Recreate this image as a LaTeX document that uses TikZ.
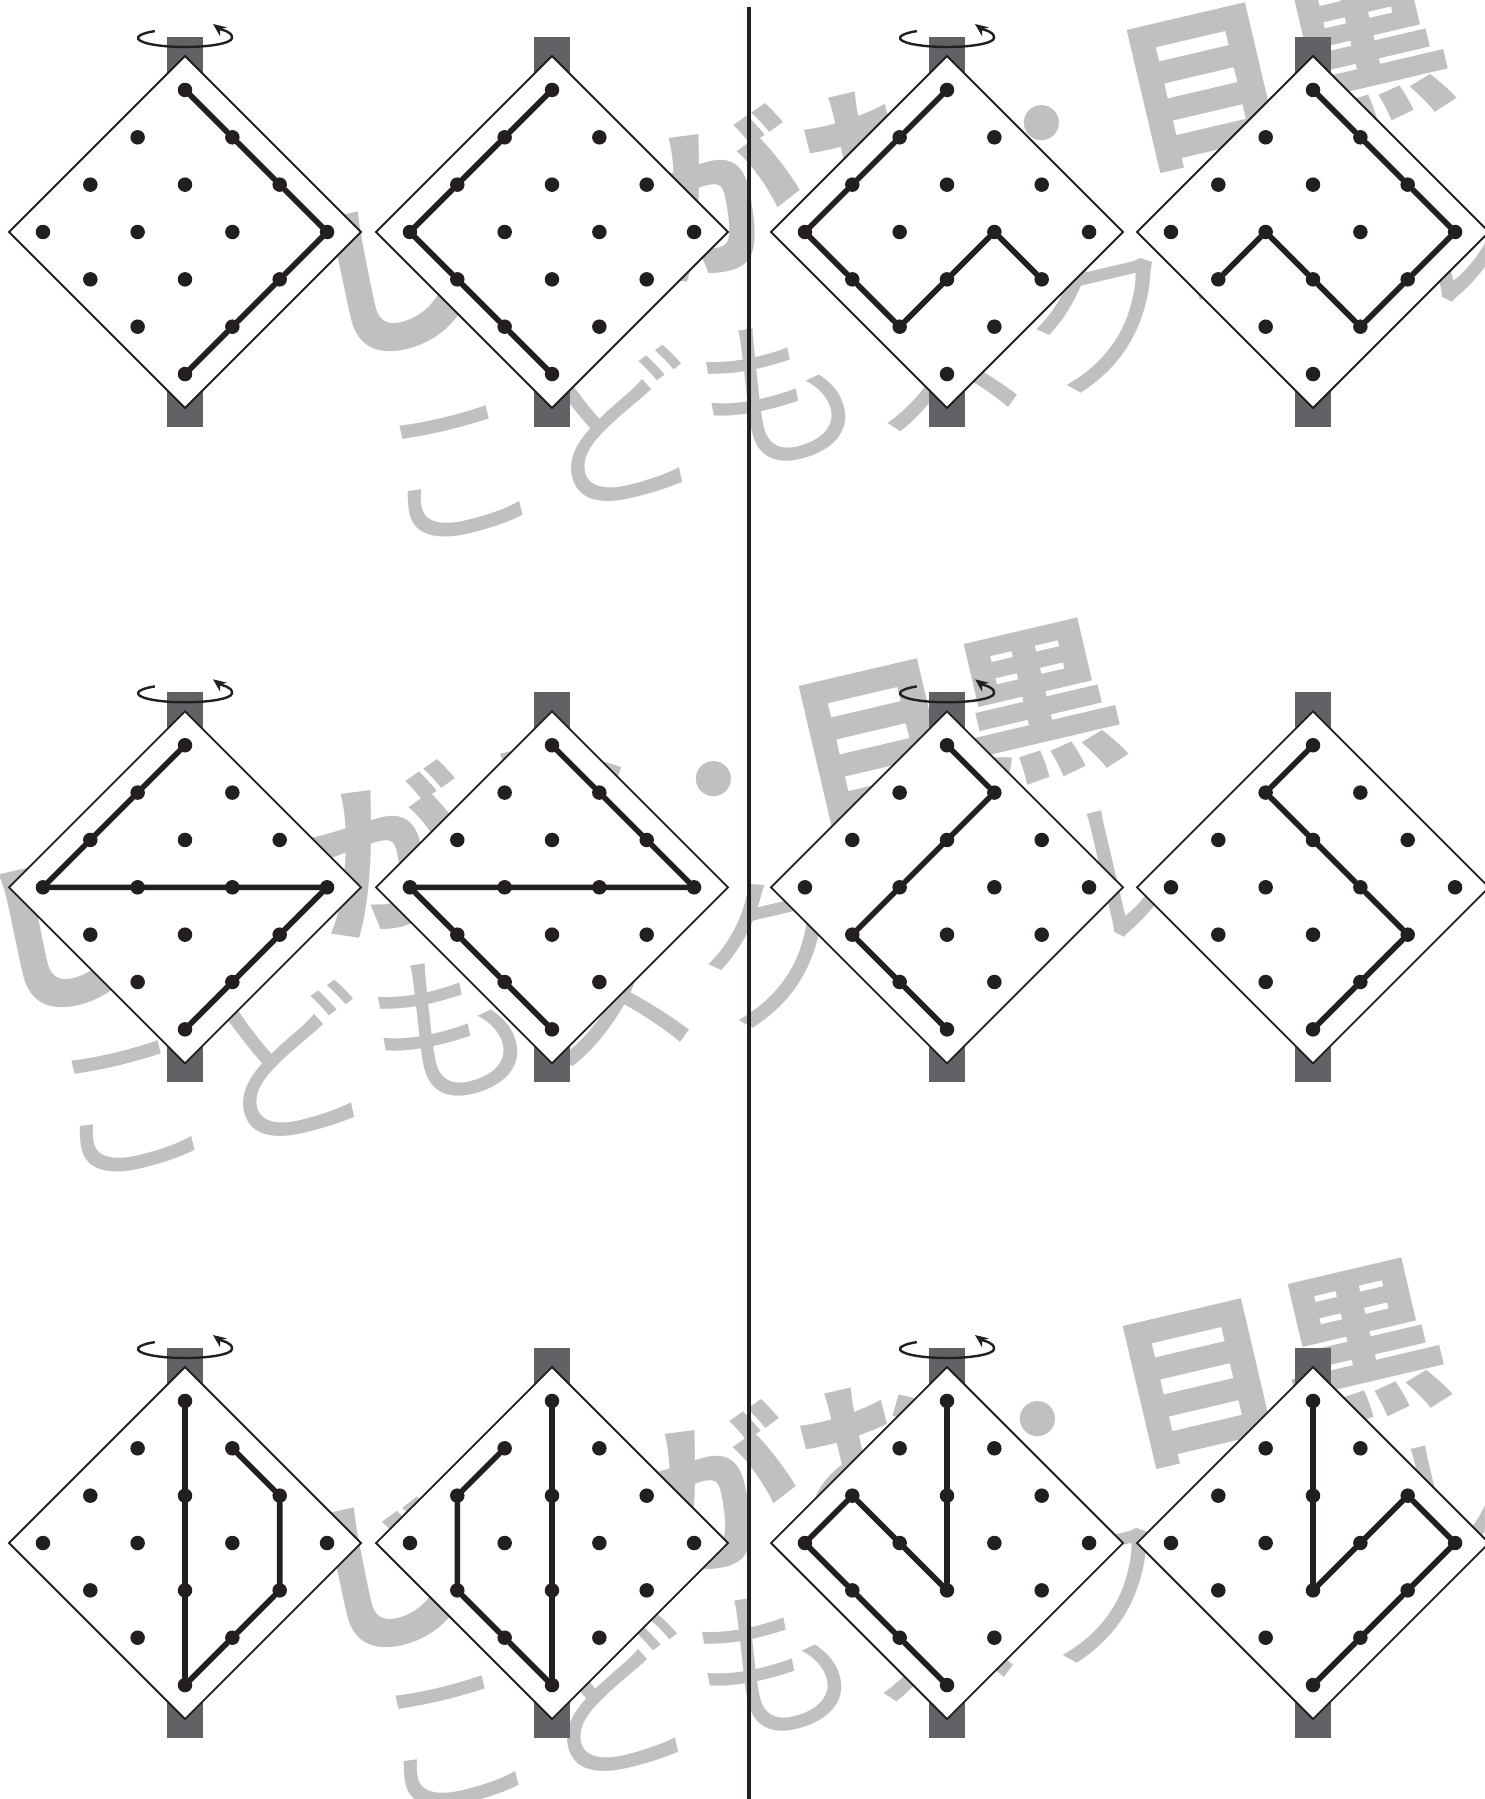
\documentclass[tikz,border=0pt]{standalone}
\usepackage{fontspec}
\newfontfamily\wmfont{Noto Sans CJK JP}
\usetikzlibrary{arrows.meta}
\definecolor{postgray}{RGB}{100,97,102}
\definecolor{wmgray}{RGB}{192,192,194}
\definecolor{ink}{RGB}{35,31,32}
\newcommand\geoboard[3]{%
  \fill[post] ({#2-18.4},{#3-195}) rectangle ({#2+18.4},{#3+195});
  \draw[board] (#2,{#3-176}) -- ({#2+176},#3) -- (#2,{#3+176}) -- ({#2-176},#3) -- cycle;
  \foreach \i in {0,...,3}{\foreach \j in {0,...,3}{
    \node[peg] (#1-\i-\j) at ({#2+47.35*(\i-\j)},{#3-142.05+47.35*(\i+\j)}) {};}}
}
\newcommand\turnarrow[2]{%
  \draw[turn] ({#1-30.2},{#2-6.9}) arc[start angle=230,end angle=0,x radius=47,y radius=9]
    .. controls ({#1+47.5},{#2-7}) and ({#1+36},{#2-8}) .. ({#1+28},{#2-14});
}
\newcommand\wmtext{じ　がお{\mdseries ・}目黒}
\begin{document}
\begin{tikzpicture}[x=1pt,y=-1pt,
  post/.style={fill=postgray},
  board/.style={draw=ink,fill=white,line width=1.8pt,line join=miter},
  peg/.style={circle,fill=ink,inner sep=0pt,minimum size=14.5pt},
  band/.style={draw=ink,line width=5.6pt,line cap=round,line join=round},
  turn/.style={draw=ink,line width=2.4pt,-{Stealth[length=13pt,width=11pt]}},
  wmline/.style={text=wmgray,inner sep=0pt,anchor=west,rotate=13.2,font=\wmfont\fontsize{166}{170}\selectfont},
  wmtop/.style={text=wmgray,inner sep=0pt,anchor=west,rotate=13.2,font=\wmfont\fontsize{166}{170}\selectfont\bfseries},
  divider/.style={draw=ink,line width=4.5pt}]
\fill[white] (0,0) rectangle (1484,1799);
\useasboundingbox (0,0) rectangle (1484,1799);
% watermarks
\node[wmtop] (wm1a) at (314,292) {\wmtext};
\node[wmline] (wm1b) at (374,486) {こどもスクール};
\node[wmtop] (wm2a) at (-14,948) {\wmtext};
\node[wmline] (wm2b) at (46,1121) {こどもスクール};
\node[wmtop] (wm3a) at (310,1588) {\wmtext};
\node[wmline] (wm3b) at (370,1756) {こどもスクール};
% boards
\geoboard{A}{185}{232}
\geoboard{B}{552}{232}
\geoboard{C}{947}{232}
\geoboard{D}{1313}{232}
\geoboard{E}{185}{887.3}
\geoboard{F}{552}{887.3}
\geoboard{G}{947}{887.3}
\geoboard{H}{1313}{887.3}
\geoboard{I}{185}{1543}
\geoboard{J}{552}{1543}
\geoboard{K}{947}{1543}
\geoboard{L}{1313}{1543}
% rubber bands
\draw[band] (A-0-0) -- (A-1-0) -- (A-2-0) -- (A-3-0) -- (A-3-1) -- (A-3-2) -- (A-3-3);
\draw[band] (B-0-0) -- (B-0-1) -- (B-0-2) -- (B-0-3) -- (B-1-3) -- (B-2-3) -- (B-3-3);
\draw[band] (C-0-0) -- (C-0-1) -- (C-0-2) -- (C-0-3) -- (C-1-3) -- (C-2-3) -- (C-2-2) -- (C-2-1) -- (C-3-1);
\draw[band] (D-0-0) -- (D-1-0) -- (D-2-0) -- (D-3-0) -- (D-3-1) -- (D-3-2) -- (D-2-2) -- (D-1-2) -- (D-1-3);
\draw[band] (E-0-0) -- (E-0-1) -- (E-0-2) -- (E-0-3) -- (E-3-0) -- (E-3-1) -- (E-3-2) -- (E-3-3);
\draw[band] (F-0-0) -- (F-1-0) -- (F-2-0) -- (F-3-0) -- (F-0-3) -- (F-1-3) -- (F-2-3) -- (F-3-3);
\draw[band] (G-0-0) -- (G-1-0) -- (G-1-1) -- (G-1-2) -- (G-1-3) -- (G-2-3) -- (G-3-3);
\draw[band] (H-0-0) -- (H-0-1) -- (H-1-1) -- (H-2-1) -- (H-3-1) -- (H-3-2) -- (H-3-3);
\draw[band] (I-0-0) -- (I-3-3);
\draw[band] (I-1-0) -- (I-2-0) -- (I-3-1) -- (I-3-2) -- (I-3-3);
\draw[band] (J-0-0) -- (J-3-3);
\draw[band] (J-0-1) -- (J-0-2) -- (J-1-3) -- (J-2-3) -- (J-3-3);
\draw[band] (K-0-0) -- (K-2-2) -- (K-1-2) -- (K-0-2) -- (K-0-3) -- (K-1-3) -- (K-2-3) -- (K-3-3);
\draw[band] (L-0-0) -- (L-2-2) -- (L-2-1) -- (L-2-0) -- (L-3-0) -- (L-3-1) -- (L-3-2) -- (L-3-3);
% rotation arrows
\turnarrow{185}{38}
\turnarrow{947}{38}
\turnarrow{185}{693.3}
\turnarrow{947}{693.3}
\turnarrow{185}{1349}
\turnarrow{947}{1349}
% divider
\coordinate (divtop) at (749,7);
\coordinate (divbot) at (749,1799);
\draw[divider] (divtop) -- (divbot);
\end{tikzpicture}
\end{document}
